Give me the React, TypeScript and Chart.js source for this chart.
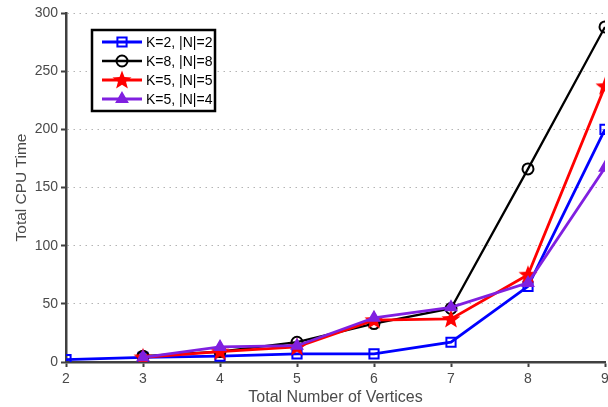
import React, { useEffect, useRef } from "react";
import { Chart, registerables } from "chart.js";
import { drawPoint } from "chart.js/helpers";

Chart.register(...registerables);

const vertices = [2, 3, 4, 5, 6, 7, 8, 9];
const seriesK2N2 = [2, 4, 5, 7, 7, 17, 65, 200];
const seriesK8N8 = [null, 5, 9, 17, 33, 46, 166, 288];
const seriesK5N5 = [null, 4, 9, 13, 36, 37, 75, 237];
const seriesK5N4 = [null, 4, 13, 14, 38, 47, 68, 167];
const seriesLabels = ["K=2, |N|=2", "K=8, |N|=8", "K=5, |N|=5", "K=5, |N|=4"];
const yTicks = [0, 50, 100, 150, 200, 250, 300];

const BLUE = "#0000ff";
const BLACK = "#000000";
const RED = "#ff0000";
const PURPLE = "#8020e0";
const AXIS = "#404040";
const LABEL = "#4a4a4a";
const FONT = "'Liberation Sans', Arial, sans-serif";

function makeStar(color: string): HTMLCanvasElement {
  const c = document.createElement("canvas");
  c.width = 22;
  c.height = 22;
  const ctx = c.getContext("2d")!;
  ctx.beginPath();
  for (let i = 0; i < 10; i++) {
    const r = i % 2 === 0 ? 10 : 4.2;
    const a = -Math.PI / 2 + (i * Math.PI) / 5;
    const x = 11 + r * Math.cos(a);
    const y = 11.5 + r * Math.sin(a);
    if (i === 0) ctx.moveTo(x, y);
    else ctx.lineTo(x, y);
  }
  ctx.closePath();
  ctx.fillStyle = color;
  ctx.fill();
  return c;
}

export default function App() {
  const ref = useRef<HTMLCanvasElement | null>(null);

  useEffect(() => {
    document.body.style.margin = "0";
    document.body.style.overflow = "hidden";
    const star = makeStar(RED);
    const toPts = (arr: (number | null)[]) =>
      vertices.map((x, i) => ({ x, y: arr[i] }));

    const datasets: any[] = [
      {
        label: seriesLabels[0],
        data: toPts(seriesK2N2),
        borderColor: BLUE,
        backgroundColor: "rgba(0,0,0,0)",
        borderWidth: 2.8,
        pointStyle: "rect",
        pointRadius: 6.5,
        pointBorderWidth: 2,
        pointBorderColor: BLUE,
        pointBackgroundColor: "rgba(0,0,0,0)",
        order: 4,
      },
      {
        label: seriesLabels[1],
        data: toPts(seriesK8N8),
        borderColor: BLACK,
        backgroundColor: "rgba(0,0,0,0)",
        borderWidth: 2.3,
        pointStyle: "circle",
        pointRadius: 5.5,
        pointBorderWidth: 2,
        pointBorderColor: BLACK,
        pointBackgroundColor: "rgba(0,0,0,0)",
        order: 3,
      },
      {
        label: seriesLabels[2],
        data: toPts(seriesK5N5),
        borderColor: RED,
        backgroundColor: RED,
        borderWidth: 2.8,
        pointStyle: star,
        pointRadius: 10,
        pointBorderWidth: 0,
        order: 2,
      },
      {
        label: seriesLabels[3],
        data: toPts(seriesK5N4),
        borderColor: PURPLE,
        backgroundColor: PURPLE,
        borderWidth: 2.8,
        pointStyle: "triangle",
        pointRadius: 6.5,
        pointBorderWidth: 1.5,
        pointBorderColor: PURPLE,
        pointBackgroundColor: PURPLE,
        order: 1,
      },
    ];

    const legendPlugin = {
      id: "boxLegend",
      afterDraw(chart: any) {
        const ctx = chart.ctx as CanvasRenderingContext2D;
        ctx.save();
        const bx = 92, by = 30, bw = 123, bh = 81;
        ctx.fillStyle = "#ffffff";
        ctx.fillRect(bx, by, bw, bh);
        ctx.strokeStyle = "#000000";
        ctx.lineWidth = 2.5;
        ctx.strokeRect(bx, by, bw, bh);
        chart.data.datasets.forEach((ds: any, i: number) => {
          const y = 42 + i * 19;
          ctx.strokeStyle = ds.borderColor;
          ctx.lineWidth = ds.borderWidth;
          ctx.beginPath();
          ctx.moveTo(102, y);
          ctx.lineTo(142, y);
          ctx.stroke();
          ctx.strokeStyle = ds.pointBorderColor || ds.borderColor;
          ctx.fillStyle = ds.pointBackgroundColor || ds.backgroundColor;
          ctx.lineWidth = ds.pointBorderWidth;
          drawPoint(
            ctx,
            {
              pointStyle: ds.pointStyle,
              rotation: 0,
              radius: ds.pointRadius,
              borderWidth: ds.pointBorderWidth,
            } as any,
            122,
            y
          );
          ctx.fillStyle = "#000000";
          ctx.font = `14px ${FONT}`;
          ctx.textBaseline = "middle";
          ctx.textAlign = "left";
          ctx.fillText(ds.label, 146, y + 1);
        });
        ctx.restore();
      },
    };

    const chart = new Chart(ref.current!, {
      type: "line",
      data: { datasets },
      plugins: [legendPlugin],
      options: {
        responsive: false,
        animation: false,
        layout: { padding: { left: 12, top: 13, right: 3, bottom: 0 } },
        plugins: { legend: { display: false }, tooltip: { enabled: false } },
        scales: {
          x: {
            type: "linear",
            min: 2,
            max: 9,
            afterFit: (s: any) => {
              s.height = 45;
            },
            ticks: {
              stepSize: 1,
              color: LABEL,
              font: { family: FONT, size: 14 },
              padding: 4,
            },
            grid: {
              drawOnChartArea: false,
              drawTicks: true,
              tickLength: 5,
              tickColor: AXIS,
              tickWidth: 2,
            },
            border: { color: AXIS, width: 2.5 },
            title: {
              display: true,
              text: "Total Number of Vertices",
              color: LABEL,
              font: { family: FONT, size: 16 },
              padding: { top: 0, bottom: 0 },
            },
          },
          y: {
            min: 0,
            max: 300,
            afterFit: (s: any) => {
              s.width = 54;
            },
            afterBuildTicks: (s: any) => {
              s.ticks = yTicks.map((v) => ({ value: v }));
            },
            ticks: {
              color: LABEL,
              font: { family: FONT, size: 14 },
              padding: 3,
            },
            grid: {
              color: "#b4b4b4",
              lineWidth: 1,
              drawTicks: true,
              tickLength: 5,
              tickColor: AXIS,
              tickWidth: 2,
            },
            border: { color: AXIS, width: 2.5, dash: [1.5, 4.5] },
            title: {
              display: true,
              text: "Total CPU Time",
              color: LABEL,
              font: { family: FONT, size: 15.5 },
              padding: { top: 0, bottom: 4 },
            },
          },
        },
      } as any,
    });
    return () => chart.destroy();
  }, []);

  return (
    <div style={{ width: 608, height: 407, position: "relative", overflow: "hidden" }}>
      <canvas ref={ref} width={615} height={407} style={{ display: "block" }} />
    </div>
  );
}
